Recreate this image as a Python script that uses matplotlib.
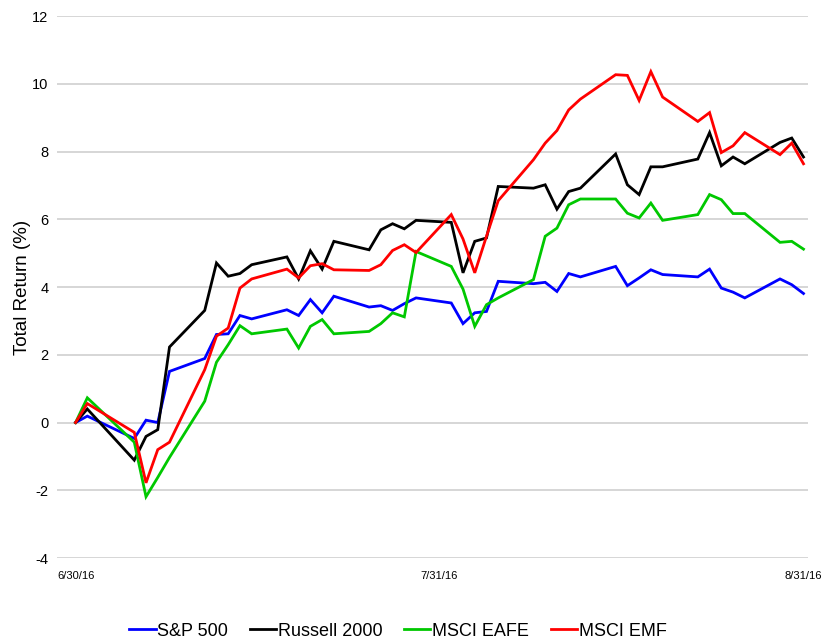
import matplotlib
matplotlib.use("Agg")
import matplotlib.pyplot as plt
import pandas as pd

plt.rcParams['font.family'] = ['Liberation Sans', 'DejaVu Sans']

# trading days, 6/30/16 to 8/31/16
dates = pd.to_datetime([
    "2016-06-30", "2016-07-01", "2016-07-05", "2016-07-06", "2016-07-07", "2016-07-08",
    "2016-07-11", "2016-07-12", "2016-07-13", "2016-07-14", "2016-07-15",
    "2016-07-18", "2016-07-19", "2016-07-20", "2016-07-21", "2016-07-22",
    "2016-07-25", "2016-07-26", "2016-07-27", "2016-07-28", "2016-07-29",
    "2016-08-01", "2016-08-02", "2016-08-03", "2016-08-04", "2016-08-05",
    "2016-08-08", "2016-08-09", "2016-08-10", "2016-08-11", "2016-08-12",
    "2016-08-15", "2016-08-16", "2016-08-17", "2016-08-18", "2016-08-19",
    "2016-08-22", "2016-08-23", "2016-08-24", "2016-08-25", "2016-08-26",
    "2016-08-29", "2016-08-30", "2016-08-31",
])

sp500 = [0.00, 0.19, -0.47, 0.07, 0.00, 1.51,
         1.89, 2.60, 2.62, 3.16, 3.06,
         3.33, 3.16, 3.63, 3.24, 3.73,
         3.41, 3.45, 3.31, 3.51, 3.68,
         3.53, 2.92, 3.24, 3.28, 4.17,
         4.10, 4.14, 3.87, 4.40, 4.30,
         4.61, 4.04, 4.27, 4.51, 4.37,
         4.30, 4.53, 3.97, 3.85, 3.68,
         4.24, 4.07, 3.81]

russell2000 = [0.00, 0.40, -1.11, -0.41, -0.21, 2.23,
               3.31, 4.71, 4.32, 4.40, 4.66,
               4.89, 4.24, 5.07, 4.53, 5.35,
               5.10, 5.69, 5.87, 5.72, 5.97,
               5.91, 4.42, 5.35, 5.45, 6.97,
               6.92, 7.02, 6.30, 6.82, 6.92,
               7.93, 7.02, 6.73, 7.55, 7.55,
               7.78, 8.56, 7.58, 7.84, 7.64,
               8.27, 8.40, 7.84]

msci_eafe = [0.00, 0.73, -0.58, -2.19, -1.62, -1.03,
             0.63, 1.78, 2.30, 2.86, 2.62,
             2.76, 2.20, 2.84, 3.04, 2.62,
             2.69, 2.92, 3.24, 3.12, 5.05,
             4.61, 3.94, 2.84, 3.48, 3.68,
             4.22, 5.50, 5.74, 6.43, 6.60,
             6.60, 6.18, 6.04, 6.48, 5.97,
             6.14, 6.73, 6.58, 6.17, 6.17,
             5.32, 5.35, 5.12]

msci_emf = [0.00, 0.56, -0.29, -1.78, -0.80, -0.58,
            1.56, 2.55, 2.79, 3.97, 4.24,
            4.53, 4.27, 4.63, 4.69, 4.51,
            4.49, 4.66, 5.08, 5.25, 5.02,
            6.14, 5.42, 4.42, 5.50, 6.55,
            7.76, 8.25, 8.62, 9.23, 9.55,
            10.27, 10.25, 9.51, 10.36, 9.61,
            8.89, 9.15, 7.97, 8.17, 8.56,
            7.91, 8.25, 7.64]

series_names = ["S&P 500", "Russell 2000", "MSCI EAFE", "MSCI EMF"]
series_colors = ["#0000ff", "#000000", "#00c800", "#ff0000"]

x_tick_dates = pd.to_datetime(["2016-06-30", "2016-07-31", "2016-08-31"])
x_tick_labels = ["6/30/16", "7/31/16", "8/31/16"]
y_ticks = [-4, -2, 0, 2, 4, 6, 8, 10, 12]

fig = plt.figure(figsize=(8.23, 6.44), dpi=100)
ax = fig.add_axes([0.069, 0.1335, 0.913, 0.8415])

for vals, name, color in zip([sp500, russell2000, msci_eafe, msci_emf], series_names, series_colors):
    ax.plot(dates, vals, color=color, lw=2.0, label=name, solid_joinstyle='miter')

ax.set_ylim(-4, 12)
ax.set_yticks(y_ticks)
ax.set_yticklabels([str(t) for t in y_ticks], fontsize=10.5)
ax.set_xlim(pd.Timestamp("2016-06-30") - pd.Timedelta(days=1.6),
            pd.Timestamp("2016-08-31") + pd.Timedelta(days=0.4))
ax.set_xticks(x_tick_dates)
ax.set_xticklabels(x_tick_labels, fontsize=8)
ax.tick_params(axis='both', length=0)
ax.tick_params(axis='y', pad=6)
ax.tick_params(axis='x', pad=9)
ax.grid(axis='y', color='#d0d0d0', lw=1.2)
ax.set_axisbelow(True)
for s in ax.spines.values():
    s.set_visible(False)

ax.set_ylabel("Total Return (%)", fontsize=13.5, labelpad=1)

fig.legend(loc='center', bbox_to_anchor=(398 / 823, 1 - 631 / 644), ncol=4,
           frameon=False, fontsize=13, handlelength=1.45, handletextpad=0.1,
           columnspacing=1.2)

fig.savefig("out.png", dpi=100)
